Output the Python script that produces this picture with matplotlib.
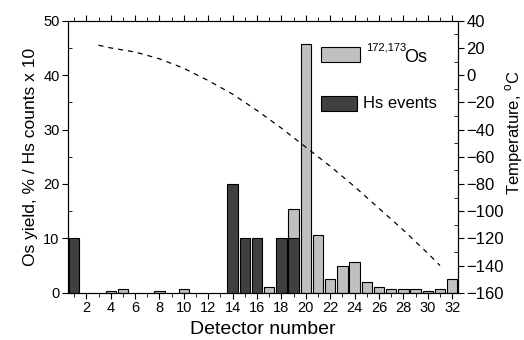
import matplotlib
matplotlib.use("Agg")
import matplotlib.pyplot as plt
from matplotlib.patches import Rectangle
from matplotlib.ticker import MultipleLocator

plt.rcParams['font.family'] = ['Liberation Sans', 'DejaVu Sans']
plt.rcParams['mathtext.fontset'] = 'custom'
plt.rcParams['mathtext.rm'] = 'Liberation Sans'

# Os yield (%) per detector
os_det = [4, 5, 8, 10, 17, 19, 20, 21, 22, 23, 24, 25, 26, 27, 28, 29, 30, 31, 32]
os_yield = [0.3, 0.6, 0.3, 0.6, 1.0, 15.3, 45.8, 10.7, 2.5, 5.0, 5.7, 1.9,
            1.0, 0.6, 0.6, 0.6, 0.3, 0.6, 2.5]

# Hs events (counts x 10)
hs_det = [1, 14, 15, 16, 18, 19]
hs_counts = [10, 20, 10, 10, 10, 10]

# temperature profile along the detector array
temp_det = [3, 4, 6, 8, 10, 12, 14, 16, 18, 20, 22, 24, 26, 28, 30, 31]
temp_c = [22, 20, 17, 12, 5, -4, -14, -26, -39, -53, -67, -82, -98, -114, -131, -140]

light = '#c0c0c0'
dark = '#404040'

fig = plt.figure(figsize=(5.24, 3.4), dpi=100)
ax = fig.add_axes([0.1298, 0.1391, 0.7448, 0.7999])

ax.bar(os_det, os_yield, width=0.85, color=light, edgecolor='black', linewidth=0.8, zorder=2)
ax.bar(hs_det, hs_counts, width=0.85, color=dark, edgecolor='black', linewidth=0.8, zorder=3)

ax.set_xlim(0.5, 32.5)
ax.set_ylim(0, 50)
ax.xaxis.set_major_locator(MultipleLocator(2))
ax.xaxis.set_minor_locator(MultipleLocator(1))
ax.yaxis.set_major_locator(MultipleLocator(10))
ax.yaxis.set_minor_locator(MultipleLocator(5))
ax.tick_params(axis='x', which='both', direction='out', top=True, labelsize=10.5)
ax.tick_params(axis='x', which='major', length=4, pad=2)
ax.tick_params(axis='x', which='minor', length=3)
ax.tick_params(axis='y', which='major', direction='out', length=4, labelsize=10.5, pad=2)
ax.tick_params(axis='y', which='minor', direction='in', length=3)
ax.set_xlabel('Detector number', fontsize=14, labelpad=4)
ax.set_ylabel('Os yield, % / Hs counts x 10', fontsize=12.5, labelpad=4)

ax2 = ax.twinx()
ax2.plot(temp_det, temp_c, color='black', linestyle=(0, (4, 4)), linewidth=0.9)
ax2.set_ylim(-160, 40)
ax2.yaxis.set_major_locator(MultipleLocator(20))
ax2.yaxis.set_minor_locator(MultipleLocator(10))
ax2.tick_params(axis='y', which='major', direction='out', length=4, labelsize=12, pad=2)
ax2.tick_params(axis='y', which='minor', direction='in', length=3)
ax2.set_ylabel(r'Temperature, $^{\mathrm{o}}$C', fontsize=12, va='center')
ax2.yaxis.set_label_coords(1.142, 0.59)

# legend
ax.add_patch(Rectangle((0.648, 0.848), 0.100, 0.055, transform=ax.transAxes,
                       facecolor=light, edgecolor='black', linewidth=0.8, zorder=5))
ax.text(0.7635, 0.892, '172,173', transform=ax.transAxes, fontsize=8,
        va='baseline', ha='left', zorder=5)
ax.text(0.861, 0.848, 'Os', transform=ax.transAxes, fontsize=13,
        va='baseline', ha='left', zorder=5)
ax.add_patch(Rectangle((0.648, 0.668), 0.092, 0.055, transform=ax.transAxes,
                       facecolor=dark, edgecolor='black', linewidth=0.8, zorder=5))
ax.text(0.755, 0.695, 'Hs events', transform=ax.transAxes, fontsize=12,
        va='center', ha='left', zorder=5)

fig.savefig('out.png', dpi=100)
